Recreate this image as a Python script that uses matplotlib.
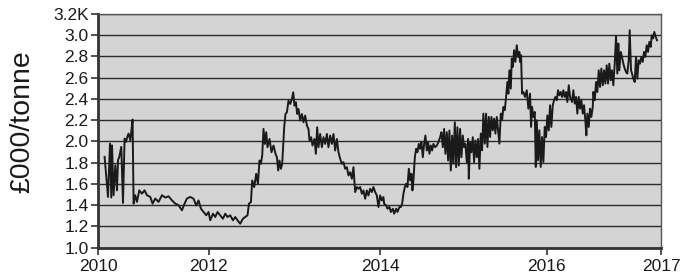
import numpy as np
import matplotlib
matplotlib.use('Agg')
import matplotlib.pyplot as plt

plt.rcParams['font.family'] = ['Liberation Sans', 'DejaVu Sans']

# x is a position along the axis (trading-day style index), y is price in £000/tonne
x_2010 = [6.3, 9.7, 11.7, 13, 13.7, 15.3, 17, 18.7, 19.7, 21, 23, 24.7, 26.3, 27.7, 29, 30.3,
          32, 33, 34.3, 35.3, 37, 38.7, 41, 43.7, 46.3, 48.7, 52, 54.3, 57, 60.3, 63.7, 67,
          70.3, 73.7, 77, 80.3, 83.7, 86.3, 88.7, 92]
y_2010 = [1.855, 1.478, 1.98, 1.472, 1.964, 1.494, 1.776, 1.54, 1.823, 1.855, 1.949, 1.421,
          2.027, 1.996, 2.043, 2.074, 2.012, 2.09, 2.206, 1.415, 1.494, 1.431, 1.54, 1.509,
          1.54, 1.494, 1.478, 1.415, 1.463, 1.431, 1.494, 1.472, 1.484, 1.446, 1.415, 1.4,
          1.352, 1.415, 1.463, 1.478]

x_2012 = [95.3, 98, 100.3, 102.7, 105.3, 108, 110.3, 112, 114.7, 117, 119.3, 122, 124.7, 127,
          129.3, 132, 134.7, 137, 139.3, 142, 144.7, 147, 149.3, 150.7, 152.7, 154, 156, 158,
          159.7, 161.3, 162.7, 164, 165.3, 166.7, 168, 169.3, 171.3, 173.3, 175.3, 177.3,
          178.7, 180, 181.3, 182.7, 184, 186, 187.3]
y_2012 = [1.461, 1.398, 1.445, 1.367, 1.336, 1.305, 1.336, 1.258, 1.32, 1.289, 1.336, 1.305,
          1.273, 1.32, 1.289, 1.305, 1.258, 1.289, 1.258, 1.226, 1.273, 1.289, 1.305, 1.414,
          1.43, 1.633, 1.57, 1.696, 1.602, 1.821, 1.79, 1.868, 2.118, 1.977, 2.087, 1.946,
          2.024, 1.899, 1.962, 1.884, 1.852, 1.727, 1.821, 1.743, 1.79, 2.134, 2.259]

x_2013 = [188.7, 190.3, 192, 193.7, 195, 196.3, 197.7, 199, 200.3, 202, 203.7, 205.3, 207,
          208.7, 210.3, 211.3, 213, 214.3, 216.3, 217.7, 219, 220.3, 222, 223.7, 225.3, 227,
          228.7, 230.3, 232, 233.7, 235.3, 237, 238.7, 240.3, 242, 243.7, 245.3, 247, 248.7,
          250.3, 252, 253.7, 255.3, 257, 258.7, 260.3, 262, 263.7, 265.3, 267, 268.7, 270.3,
          272, 273.7, 275.3, 277, 278.7, 280.3, 282, 283.7, 285.3]
y_2013 = [2.275, 2.384, 2.353, 2.4, 2.463, 2.337, 2.369, 2.259, 2.306, 2.197, 2.259, 2.181,
          2.244, 2.15, 2.118, 2.009, 2.04, 1.962, 2.024, 1.884, 2.134, 1.946, 2.071, 1.946,
          2.04, 1.977, 2.071, 1.946, 2.056, 1.977, 2.071, 1.915, 2.024, 1.899, 1.837, 1.79,
          1.805, 1.743, 1.758, 1.68, 1.711, 1.649, 1.758, 1.524, 1.571, 1.555, 1.571, 1.508,
          1.539, 1.461, 1.539, 1.492, 1.555, 1.524, 1.571, 1.524, 1.492, 1.383, 1.492, 1.445,
          1.477]

x_2014 = [286, 288, 289.3, 291.3, 292.7, 294.7, 296, 298, 299.3, 301.3, 302.7, 304, 305.3,
          306.7, 308, 309.3, 310.7, 312, 313.3, 314.3, 315.3, 316.7, 318, 319.3, 320.7, 322,
          323.3, 324.7, 326, 327.3, 328.7, 330, 331.3, 332.7, 334, 335.3, 337, 338.7, 340.3,
          342, 343.3, 344.7, 346, 347.3, 348.7, 350, 351.3, 352.7, 354, 355.3, 356.7, 358,
          359.3, 360.7, 362, 363.3, 364.7, 366, 367.3, 368.7, 370, 370.7, 372, 373.3, 374.7,
          376, 377.3, 378.7, 380, 381.3]
y_2014 = [1.414, 1.398, 1.367, 1.383, 1.336, 1.367, 1.32, 1.367, 1.336, 1.383, 1.383, 1.414,
          1.508, 1.571, 1.602, 1.571, 1.743, 1.633, 1.696, 1.539, 1.633, 1.852, 1.931, 1.899,
          1.977, 1.931, 1.993, 1.852, 1.977, 2.056, 1.915, 1.993, 1.884, 1.962, 1.915, 1.977,
          1.946, 1.962, 1.993, 2.04, 2.087, 1.946, 2.118, 1.884, 2.087, 1.821, 2.103, 1.727,
          2.056, 1.79, 2.181, 1.758, 2.134, 1.774, 2.118, 1.852, 2.056, 1.946, 1.977, 1.805,
          2.024, 1.649, 1.993, 1.899, 2.04, 1.805, 2.009, 1.852, 2.024, 1.743]

x_2015 = [382.7, 384, 385.3, 386.7, 388, 389.3, 390.7, 392, 393.3, 394.7, 396, 397.3, 398.7,
          400, 401.3, 402.7, 404, 405.3, 406.7, 408, 409.3, 410.3, 411.3, 412.7, 413.7, 414.7,
          416, 417.3, 418.7, 420, 421.3, 422, 423, 424, 425.3, 427, 428.7, 430.3, 432, 433,
          434, 435.3, 436.7, 437.7, 438.7, 440, 441.3, 442.7, 444, 445.3, 446.7, 448, 449.3,
          450.7, 452, 453.3, 454.7, 456, 457.3, 458.7, 460, 461.3, 462.7, 464, 465.3, 466.7,
          468, 469.3, 470.7, 472]
y_2015 = [2.074, 1.917, 2.262, 1.98, 2.262, 1.948, 2.231, 2.042, 2.231, 2.105, 2.215, 2.074,
          2.231, 2.105, 1.98, 2.262, 2.199, 2.325, 2.294, 2.419, 2.56, 2.45, 2.67, 2.498, 2.78,
          2.702, 2.859, 2.749, 2.906, 2.796, 2.843, 2.749, 2.812, 2.45, 2.466, 2.419, 2.482,
          2.309, 2.45, 2.137, 2.325, 2.231, 2.278, 1.76, 2.199, 1.823, 2.105, 1.76, 2.042,
          1.807, 2.137, 2.042, 2.246, 2.105, 2.341, 2.137, 2.341, 2.388, 2.419, 2.388, 2.482,
          2.435, 2.466, 2.419, 2.482, 2.419, 2.466, 2.372, 2.529, 2.419]

x_2016 = [474, 475.3, 476.7, 478, 479.3, 480.7, 482, 483.3, 484.7, 486, 487.3, 488.3, 489.3,
          490.7, 492, 493.3, 494.7, 495.3, 496.7, 498, 499.3, 500.7, 502, 503.3, 504.7, 506,
          507.3, 508.7, 510, 511.3, 512.7, 514, 515.3, 516.7, 518, 519.3, 520.3, 521.3, 522.7,
          524, 525.3, 526.7, 528, 529.3, 530.7, 531.7, 533, 534, 535.3, 536.7, 538, 539.3,
          540.7, 542, 543.3, 544.7, 546, 547.3, 548.7, 550, 551.3, 552.7, 553.7, 555, 556.3,
          557.7, 559]
y_2016 = [2.372, 2.482, 2.356, 2.419, 2.262, 2.419, 2.309, 2.388, 2.262, 2.341, 2.199, 2.058,
          2.262, 2.137, 2.309, 2.231, 2.325, 2.466, 2.388, 2.56, 2.466, 2.67, 2.513, 2.686,
          2.529, 2.67, 2.545, 2.717, 2.545, 2.733, 2.576, 2.67, 2.529, 2.733, 2.991, 2.639,
          2.922, 2.67, 2.843, 2.796, 2.733, 2.686, 2.655, 2.639, 2.765, 3.047, 2.67, 2.639,
          2.592, 2.56, 2.796, 2.592, 2.765, 2.733, 2.796, 2.749, 2.843, 2.796, 2.906, 2.843,
          2.937, 2.89, 3.0, 2.969, 3.031, 2.984, 2.953]

tick_pos = [0, 110.3, 282, 448.7, 563]
tick_labels = ['2010', '2012', '2014', '2016', '2017']
y_ticks = [1.0, 1.2, 1.4, 1.6, 1.8, 2.0, 2.2, 2.4, 2.6, 2.8, 3.0, 3.2]
y_labels = ['1.0', '1.2', '1.4', '1.6', '1.8', '2.0', '2.2', '2.4', '2.6', '2.8', '3.0', '3.2K']

x = np.concatenate([x_2010, x_2012, x_2013, x_2014, x_2015, x_2016])
y = np.concatenate([y_2010, y_2012, y_2013, y_2014, y_2015, y_2016])

fig = plt.figure(figsize=(6.93, 2.78), dpi=100)
ax = fig.add_axes([98.3 / 693, 1 - 247.7 / 278, (661 - 98.3) / 693, (247.7 - 14) / 278])
ax.set_facecolor('#d4d4d4')

for v in y_ticks:
    ax.axhline(v, color='#2b2b2b', lw=1.0, zorder=1)

ax.plot(x, y, color='#1a1a1a', lw=1.4, zorder=3)

ax.set_xlim(0, 563)
ax.set_ylim(1.0, 3.2)
ax.set_xticks(tick_pos)
ax.set_xticklabels(tick_labels)
ax.set_yticks(y_ticks)
ax.set_yticklabels(y_labels)
ax.tick_params(axis='both', labelsize=12.5, length=5, width=1.2, color='#333333',
               labelcolor='#1a1a1a', direction='out')
ax.tick_params(axis='x', pad=3)
ax.tick_params(axis='y', pad=2)

for side in ['left', 'bottom']:
    ax.spines[side].set_linewidth(2.0)
    ax.spines[side].set_color('#333333')
for side in ['top', 'right']:
    ax.spines[side].set_linewidth(1.0)
    ax.spines[side].set_color('#555555')

fig.text(22.5 / 693, 1 - 121.5 / 278, '£000/tonne', rotation=90, ha='center', va='center',
         fontsize=20.5, color='#1a1a1a')

fig.savefig('out.png', dpi=100)
